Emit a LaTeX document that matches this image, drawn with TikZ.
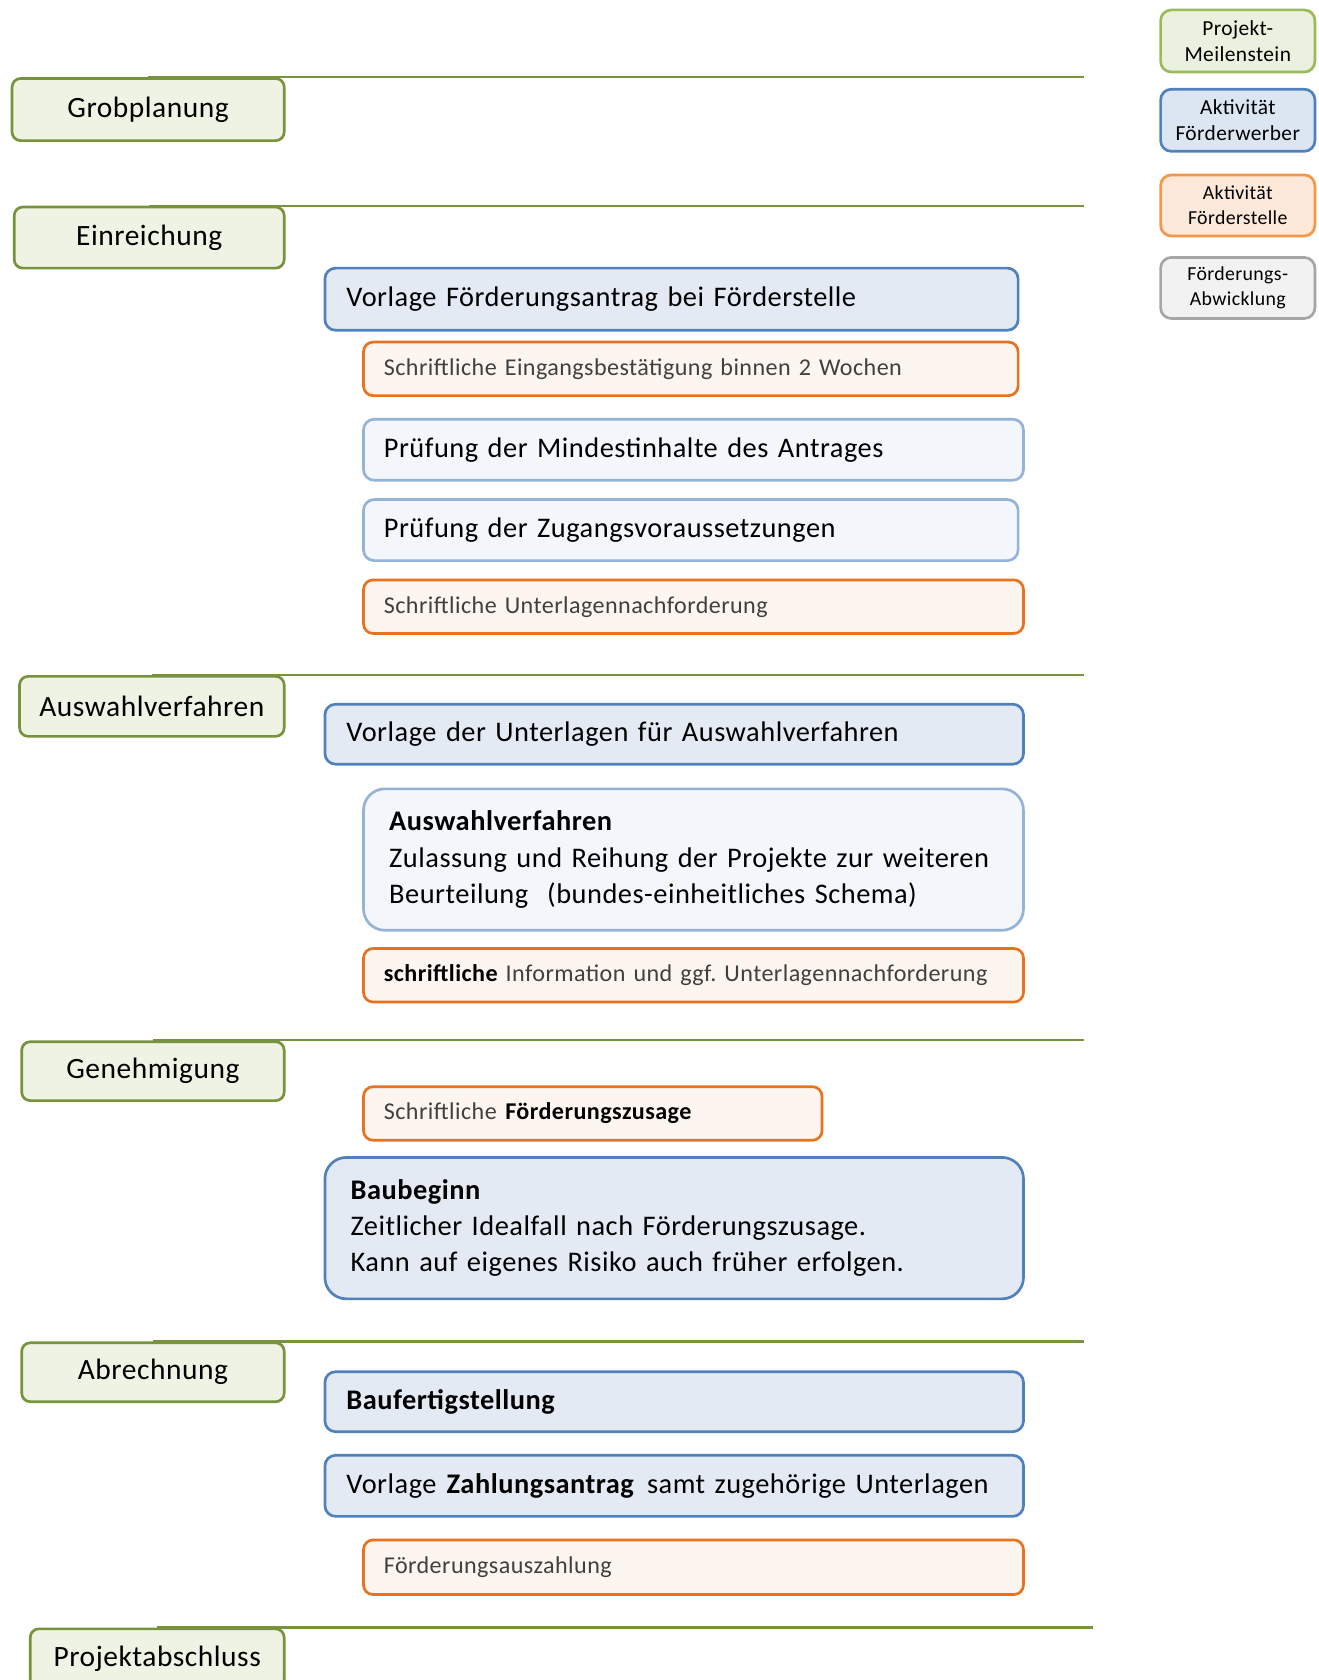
\documentclass[tikz,border=0pt]{standalone}
\usepackage{fontspec}
\setmainfont{Carlito}[LetterSpace=1.8,WordSpace=0.85]
\usepackage{xcolor}
\definecolor{msgreen}{HTML}{77933C}
\definecolor{msfill}{HTML}{EEF3E4}
\definecolor{wblue}{HTML}{4F81BD}
\definecolor{wfill}{HTML}{E3EAF4}
\definecolor{lblue}{HTML}{95B3D7}
\definecolor{lfill}{HTML}{F3F6FA}
\definecolor{sorange}{HTML}{E8721E}
\definecolor{sfill}{HTML}{FDF5EF}
\definecolor{stext}{HTML}{404040}
\definecolor{leggreen}{HTML}{9BBB59}
\definecolor{leggreenfill}{HTML}{EBF1DE}
\definecolor{legbfill}{HTML}{DCE6F2}
\definecolor{legorange}{HTML}{F79646}
\definecolor{legofill}{HTML}{FDE9D9}
\definecolor{leggray}{HTML}{A6A6A6}
\definecolor{leggrayfill}{HTML}{F2F2F2}
\tikzset{
  milestone/.style={draw=msgreen,line width=2.5pt,fill=msfill,rounded corners=8pt,
    anchor=north west,inner sep=0pt,font=\fontsize{27.5}{32}\selectfont},
  msline/.style={draw=msgreen,line width=2pt},
  werber/.style={draw=wblue,line width=2.5pt,fill=wfill,rounded corners=10pt,
    anchor=north west,inner xsep=20pt,inner ysep=0pt,align=left,
    font=\fontsize{26.5}{34}\selectfont},
  pruef/.style={werber,draw=lblue,fill=lfill,inner xsep=19pt},
  stelle/.style={draw=sorange,line width=2.5pt,fill=sfill,rounded corners=9pt,
    anchor=north west,inner xsep=19pt,inner ysep=0pt,align=left,text=stext,
    font=\fontsize{22.5}{28}\selectfont},
  legbox/.style={line width=2.5pt,rounded corners=10pt,anchor=north west,inner sep=0pt,
    minimum width=144pt,align=center}
}
\begin{document}
\begin{tikzpicture}[x=1pt,y=-1pt]
        \useasboundingbox (0,0) rectangle (1231,1568);
        % legend
        \node[legbox,draw=leggreen,fill=leggreenfill,minimum height=58pt,font=\fontsize{20}{24}\selectfont]
          (lgm) at (1082,8) {Projekt-\\Meilenstein};
        \node[legbox,draw=wblue,fill=legbfill,minimum height=58pt,font=\fontsize{20}{24}\selectfont]
          (lfw) at (1082,82) {Aktivität\\Förderwerber};
        \node[legbox,draw=legorange,fill=legofill,minimum height=57pt,font=\fontsize{18.5}{23}\selectfont]
          (lfs) at (1082,162) {Aktivität\\Förderstelle};
        \node[legbox,draw=leggray,fill=leggrayfill,minimum height=57pt,font=\fontsize{18.5}{23}\selectfont]
          (lfa) at (1082,239) {Förderungs-\\Abwicklung};
        % milestones
        \coordinate (rend) at (1012,0);
        \coordinate (rend2) at (1020,0);
        \node[milestone,minimum width=254pt,minimum height=58pt] (gp) at (10,72) {Grobplanung};
        \node[milestone,minimum width=252pt,minimum height=57pt] (ei) at (12,192) {Einreichung};
        \node[milestone,minimum width=247pt,minimum height=56pt] (av) at (17,630) {Auswahlverfahren};
        \node[milestone,minimum width=245pt,minimum height=55pt] (ge) at (19,971) {Genehmigung};
        \node[milestone,minimum width=245pt,minimum height=55pt] (ab) at (19,1252) {Abrechnung};
        \node[milestone,minimum width=237pt,minimum height=55pt] (pa) at (27,1519) {Projektabschluss};
        \foreach \m in {gp,ei,av,ge,ab}
          \draw[msline] (\m.north) -- (\m.north -| rend);
        \draw[msline] (pa.north) -- (pa.north -| rend2);
        % Einreichung
        \node[werber,text width=607pt,minimum height=58pt] (vfa) at (302,249)
          {Vorlage Förderungsantrag bei Förderstelle};
        \node[stelle,text width=573pt,minimum height=50pt] (seb) at (338,318)
          {Schriftliche Eingangsbestätigung binnen 2 Wochen};
        \node[pruef,text width=578pt,minimum height=57pt] (pmi) at (338,390)
          {Prüfung der Mindestinhalte des Antrages};
        \node[pruef,text width=573pt,minimum height=57pt] (pzv) at (338,465)
          {Prüfung der Zugangsvoraussetzungen};
        \node[stelle,text width=578pt,minimum height=50pt] (sun) at (338,540)
          {Schriftliche Unterlagennachforderung};
        % Auswahlverfahren
        \node[werber,text width=612pt,minimum height=56pt] (vua) at (302,656)
          {Vorlage der Unterlagen für Auswahlverfahren};
        \node[pruef,rounded corners=20pt,inner xsep=24pt,text width=568pt,minimum height=132pt] (awv) at (338,735)
          {\textbf{Auswahlverfahren}\\Zulassung und Reihung der Projekte zur weiteren\\Beurteilung\ \ (bundes-einheitliches Schema)};
        \node[stelle,text width=578pt,minimum height=50pt] (sin) at (338,884)
          {\textbf{\color{black}schriftliche} Information und ggf.\@ Unterlagennachforderung};
        % Genehmigung
        \node[stelle,text width=390pt,minimum height=50pt] (sfz) at (338,1013)
          {Schriftliche \textbf{\color{black}Förderungszusage}};
        \node[werber,rounded corners=20pt,inner xsep=24pt,text width=604pt,minimum height=132pt,
          font=\fontsize{26.5}{33.5}\selectfont] (bbg) at (302,1079)
          {\textbf{Baubeginn}\\Zeitlicher Idealfall nach Förderungszusage.\\Kann auf eigenes Risiko auch früher erfolgen.};
        % Abrechnung
        \node[werber,text width=612pt,minimum height=56pt] (bfs) at (302,1279)
          {\textbf{Baufertigstellung}};
        \node[werber,text width=612pt,minimum height=57pt] (vza) at (302,1357)
          {Vorlage \textbf{Zahlungsantrag}\hspace{3pt} samt zugehörige Unterlagen};
        \node[stelle,text width=578pt,minimum height=51pt] (fau) at (338,1436)
          {Förderungsauszahlung};
      \end{tikzpicture}
\end{document}
